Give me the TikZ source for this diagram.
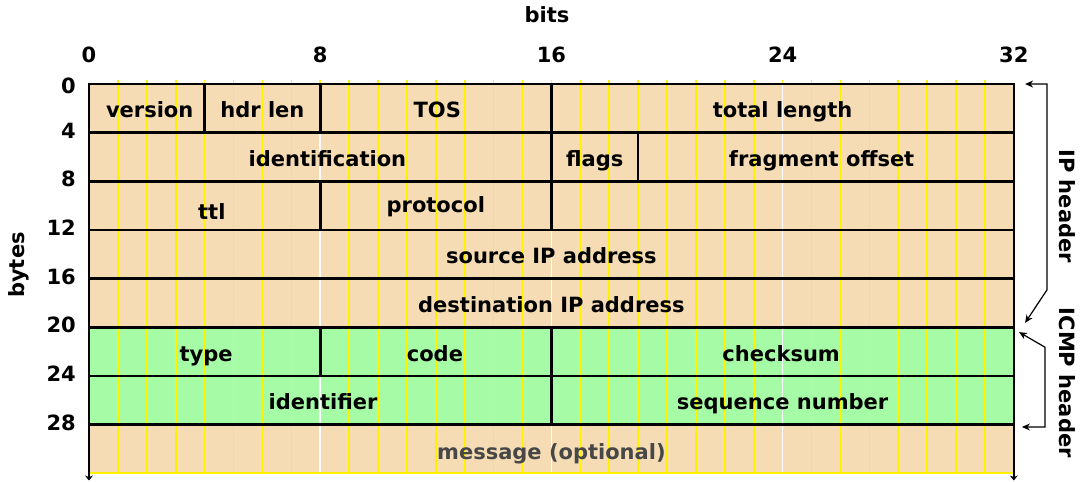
\documentclass[tikz,border=0pt]{standalone}
\usepackage{fontspec}
\setmainfont{DejaVu Sans}
\usepackage{tikz}
\usetikzlibrary{arrows.meta}
\definecolor{hdrtan}{HTML}{F5DCB4}
\definecolor{icmpgreen}{HTML}{A6FCA6}

\begin{document}
\begin{tikzpicture}[x=28.9pt, y=-48.65pt,
  every node/.style={font=\fontsize{21}{24}\selectfont\bfseries, inner sep=0pt,
    text height=15pt, text depth=4pt},
  fieldlbl/.style={text height=19pt, text depth=0pt},
  frame/.style={line width=2.6pt},
  bitline/.style={line width=1.6pt},
  bracket/.style={line width=1.2pt, {Stealth[length=8pt,width=7pt]}-{Stealth[length=8pt,width=7pt]}}]
  \useasboundingbox (-3.080,-1.727) rectangle (34.325,8.180);

  % Row fills
  \fill[hdrtan] (0,0) rectangle (32,5);
  \fill[icmpgreen] (0,5) rectangle (32,7);
  \fill[hdrtan] (0,7) rectangle (32,8);

  % Bit lines
  \foreach \b in {1,...,31} \draw[bitline, yellow] (\b,-0.08) -- (\b,8);
  \foreach \b in {8,16,24} \draw[bitline, white] (\b,0) -- (\b,8);
  \draw[yellow, line width=1.8pt] (0,8) -- (32,8);

  % Row separators and borders
  \foreach \r in {0,...,7} \draw[frame] (0,\r) -- (32,\r);
  \draw[frame, -{Stealth[length=5pt,width=8pt]}] (0,-0.03) -- (0,8.15);
  \draw[frame, -{Stealth[length=5pt,width=8pt]}] (32,-0.03) -- (32,8.15);

  % Field dividers
  \draw[frame] (4,0) -- (4,1);
  \draw[frame] (8,0) -- (8,1);
  \draw[frame] (16,0) -- (16,3);
  \draw[frame] (19,1) -- (19,2);
  \draw[frame] (8,2) -- (8,3);
  \draw[frame] (8,5) -- (8,6);
  \draw[frame] (16,5) -- (16,7);

  % IP header fields
  \node[fieldlbl] (version) at (2.1,0.5) {version};
  \node[fieldlbl] (hdrlen) at (6,0.5) {hdr len};
  \node[fieldlbl] (tos) at (12.05,0.5) {TOS};
  \node[fieldlbl] (totlen) at (24,0.5) {total length};
  \node[fieldlbl] (ident) at (8.25,1.5) {identification};
  \node[fieldlbl] (flags) at (17.5,1.5) {flags};
  \node[fieldlbl] (fragoff) at (25.35,1.5) {fragment offset};
  \node[fieldlbl] (ttl) at (4.25,2.58) {ttl};
  \node[fieldlbl] (proto) at (12,2.45) {protocol};
  \node[fieldlbl] (srcip) at (16,3.5) {source IP address};
  \node[fieldlbl] (dstip) at (16,4.5) {destination IP address};

  % ICMP header fields
  \node[fieldlbl] (type) at (4.05,5.5) {type};
  \node[fieldlbl] (code) at (11.97,5.5) {code};
  \node[fieldlbl] (cksum) at (23.95,5.5) {checksum};
  \node[fieldlbl] (identifier) at (8.1,6.5) {identifier};
  \node[fieldlbl] (seqnum) at (24,6.5) {sequence number};

  % Payload
  \node[fieldlbl, text=black!72] (msg) at (16,7.53) {message (optional)};

  % Bit axis
  \node (bits) at (15.85,-1.377) {bits};
  \foreach \b in {0,8,...,32} \node (bit\b) at (\b,-0.555) {\b};

  % Byte axis
  \node[rotate=90] (bytes) at (-2.42,3.72) {bytes};
  \node[anchor=east] (byte0) at (-0.45,0.08) {0};
  \foreach \r in {1,...,7} {
    \pgfmathtruncatemacro{\n}{4*\r}
    \node[anchor=east] (byte\n) at (-0.45,\r) {\n};
  }

  % Header brackets
  \coordinate (iptop) at (32.39,0);
  \coordinate (ipcorner) at (33.15,0);
  \coordinate (ipbend) at (33.15,4.23);
  \coordinate (ipend) at (32.39,4.91);
  \draw[bracket] (iptop) -- (ipcorner) -- (ipbend) -- (ipend);
  \node[rotate=-90] (iplbl) at (33.78,2.51) {IP header};

  \coordinate (icmptop) at (32.18,5.10);
  \coordinate (icmpbend) at (33.08,5.41);
  \coordinate (icmpcorner) at (33.08,7.05);
  \coordinate (icmpend) at (32.28,7.05);
  \draw[bracket] (icmptop) -- (icmpbend) -- (icmpcorner) -- (icmpend);
  \node[rotate=-90] (icmplbl) at (33.78,6.14) {ICMP header};
\end{tikzpicture}
\end{document}
